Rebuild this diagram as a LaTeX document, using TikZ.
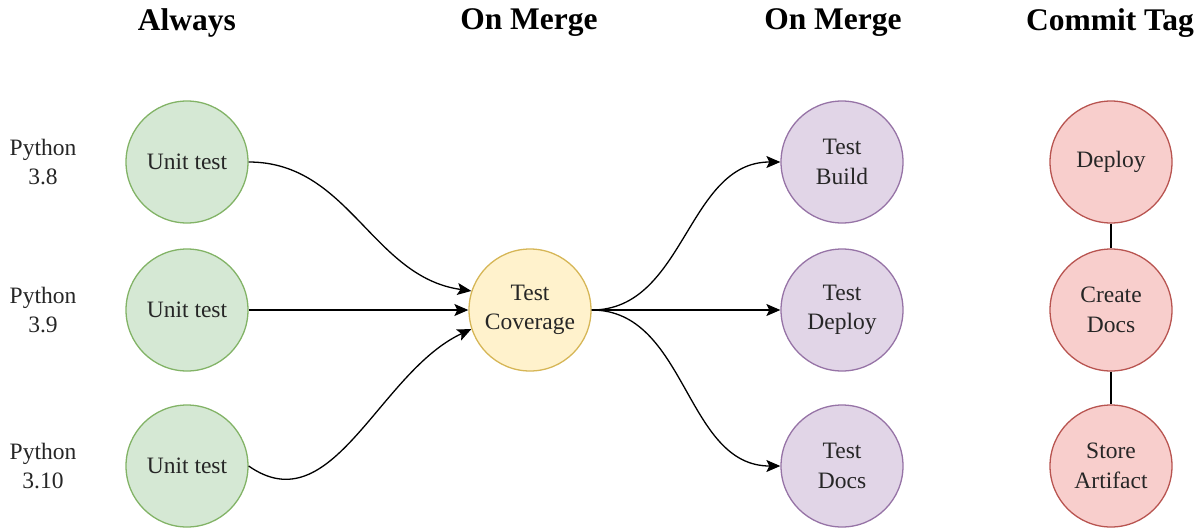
\documentclass[tikz,border=0pt]{standalone}
\usepackage{fontspec}
\setmainfont{Liberation Serif}
\usepackage{xcolor}
\usetikzlibrary{arrows.meta}

\definecolor{unitfill}{HTML}{D5E8D4}  \definecolor{unitline}{HTML}{82B366}
\definecolor{covfill}{HTML}{FFF2CC}   \definecolor{covline}{HTML}{D6B656}
\definecolor{testfill}{HTML}{E1D5E7}  \definecolor{testline}{HTML}{9673A6}
\definecolor{tagfill}{HTML}{F8CECC}   \definecolor{tagline}{HTML}{B85450}

\tikzset{
 job/.style={circle,draw,line width=1.3pt,minimum size=122pt,inner sep=0pt,
  align=center,text=black!85,font=\fontsize{23.5}{29.5}\selectfont},
 unit/.style={job,fill=unitfill,draw=unitline},
 cover/.style={job,fill=covfill,draw=covline},
 test/.style={job,fill=testfill,draw=testline},
 tag/.style={job,fill=tagfill,draw=tagline},
 stage/.style={font=\fontsize{31.5}{36}\selectfont\bfseries},
 pyver/.style={align=center,text=black!85,font=\fontsize{23.5}{29.5}\selectfont},
 flow/.style={line width=1.3pt,-{Stealth[length=14pt,width=12pt,inset=3pt]}},
 link/.style={line width=1.3pt}
}

\begin{document}
\begin{tikzpicture}[x=1pt,y=-1pt]
\useasboundingbox (0,0) rectangle (1202,531);

% stage headings
\node[stage] (always) at (187,23) {Always};
\node[stage] (merge) at (529,23) {On Merge};
\node[stage] (mergeb) at (833,23) {On Merge};
\node[stage] (commit) at (1110,23) {Commit Tag};

% one row per python version
\foreach \y/\n/\v in {162/a/3.8,310/b/3.9,466/c/3.10} {
 \node[pyver] (py\n) at (43,\y) {Python\\\v};
 \node[unit] (unit\n) at (187,\y) {Unit test};
}

\node[cover] (cov) at (530,310) {Test\\Coverage};

\node[test] (build) at (842,162) {Test\\Build};
\node[test] (deploy) at (842,310) {Test\\Deploy};
\node[test] (docs) at (842,466) {Test\\Docs};

\node[tag] (release) at (1111,162) {Deploy};
\node[tag] (mkdocs) at (1111,310) {Create\\Docs};
\node[tag] (artifact) at (1111,466) {Store\\Artifact};

% into coverage
\draw[flow] (unita.east) to[out=0,in=172] (cov.162);
\draw[flow] (unitb) -- (cov);
\draw[flow] (unitc.east) to[out=-35,in=205] (cov.198);

% out of coverage
\draw[flow] (cov.east) to[out=0,in=180] (build.west);
\draw[flow] (cov) -- (deploy);
\draw[flow] (cov.east) to[out=0,in=180] (docs.west);

% tag chain
\draw[link] (release) -- (mkdocs);
\draw[link] (mkdocs) -- (artifact);

\end{tikzpicture}
\end{document}
